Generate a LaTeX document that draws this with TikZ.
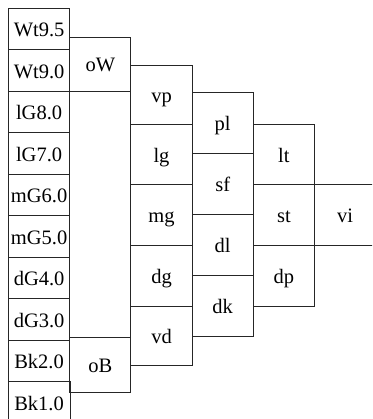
\documentclass[tikz,border=0pt]{standalone}
\usepackage{fontspec}
\setmainfont{Liberation Serif}
\begin{document}
\begin{tikzpicture}[x=1pt,y=-1pt,
  cell/.style={draw=black!85, line width=0.9pt, minimum width=61.2pt, inner sep=0pt,
    font=\fontsize{20.5}{22}\selectfont, text height=15pt, text depth=0pt, anchor=center}]
\useasboundingbox (0,0) rectangle (372,419);
\begin{scope}
\clip (-5,-5) rectangle (372,419);
% column 1
\foreach \lab [count=\i from 0] in {Wt9.5,Wt9.0,lG8.0,lG7.0,mG6.0,mG5.0,dG4.0,dG3.0,Bk2.0}{
  \node[cell, minimum height=41.5pt] (c\i) at (39.1, {8.3+41.5*\i+20.75}) {\lab};
}
\node[cell, minimum height=41.5pt, draw=none] (c9) at (39.1, 402.55) {Bk1.0};
\draw[draw=black!85, line width=0.9pt] (c9.north west) -- ([yshift=-30pt]c9.south west);
\draw[draw=black!85, line width=0.9pt] (c9.north east) -- ([yshift=-30pt]c9.south east);
% column 2
\node[cell, minimum height=53.7pt] (oW) at (100.3, 64.15) {oW};
\node[cell, minimum height=55.4pt] (oB) at (100.3, 365.0) {oB};
% column 3
\node[cell, minimum height=59.5pt] (vp) at (161.5, 94.75) {vp};
\node[cell, minimum height=60.2pt] (lg) at (161.5, 154.6) {lg};
\node[cell, minimum height=60.6pt] (mg) at (161.5, 215.0) {mg};
\node[cell, minimum height=60.7pt] (dg) at (161.5, 275.65) {dg};
\node[cell, minimum height=59pt] (vd) at (161.5, 335.5) {vd};
% column 4
\node[cell, minimum height=61pt] (pl) at (222.7, 123.2) {pl};
\node[cell, minimum height=61pt] (sf) at (222.7, 184.2) {sf};
\node[cell, minimum height=61pt] (dl) at (222.7, 245.2) {dl};
\node[cell, minimum height=61pt] (dk) at (222.7, 306.2) {dk};
% column 5
\node[cell, minimum height=60.2pt] (lt) at (283.9, 154.6) {lt};
\node[cell, minimum height=60.6pt] (st) at (283.9, 215.0) {st};
\node[cell, minimum height=60.7pt] (dp) at (283.9, 275.65) {dp};
% column 6
\node[cell, minimum height=60.6pt] (vi) at (345.1, 215.0) {vi};
\end{scope}
\end{tikzpicture}
\end{document}
